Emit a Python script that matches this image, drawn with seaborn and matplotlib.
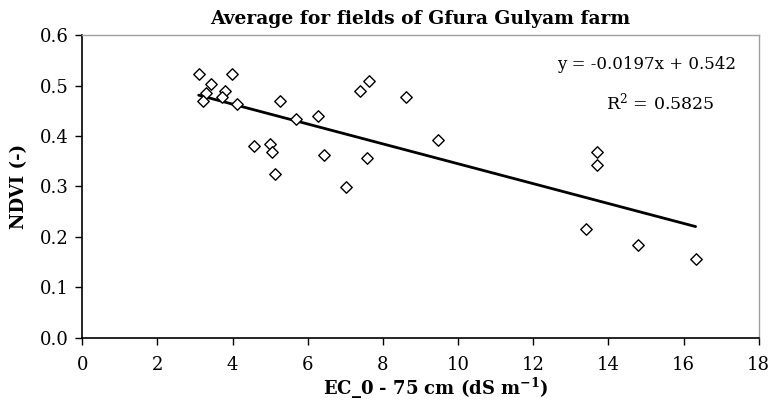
import matplotlib
matplotlib.use("Agg")
import matplotlib.pyplot as plt
import seaborn as sns
import pandas as pd
import numpy as np

# Data
ec = [3.10, 3.99, 3.43, 3.29, 3.80, 3.21, 3.72, 4.11, 4.57, 4.99, 5.06, 5.14, 5.27, 5.69,
      6.28, 6.44, 7.02, 7.38, 7.62, 7.57, 8.62, 9.48, 13.40, 13.69, 13.70, 14.80, 16.32]
ndvi = [0.523, 0.523, 0.504, 0.485, 0.489, 0.469, 0.478, 0.463, 0.380, 0.384, 0.368, 0.325,
        0.470, 0.434, 0.440, 0.363, 0.298, 0.489, 0.509, 0.356, 0.478, 0.393, 0.216, 0.369,
        0.343, 0.184, 0.156]
slope = -0.0197
intercept = 0.542
r2 = 0.5825

df = pd.DataFrame({'ec': ec, 'ndvi': ndvi})

sns.set_theme(style="ticks")
plt.rcParams['font.family'] = ['DejaVu Serif']
plt.rcParams['mathtext.fontset'] = 'dejavuserif'
plt.rcParams['text.color'] = 'black'
plt.rcParams['axes.labelcolor'] = 'black'

fig, ax = plt.subplots(figsize=(7.75, 4.08), dpi=100)
fig.subplots_adjust(left=0.106, right=0.979, top=0.914, bottom=0.172)

# Trend line from the reported fit
xfit = np.array([min(ec), max(ec)])
fit = pd.DataFrame({'ec': xfit, 'ndvi': slope * xfit + intercept})
sns.lineplot(data=fit, x='ec', y='ndvi', ax=ax, color='black', linewidth=2)

sns.scatterplot(data=df, x='ec', y='ndvi', ax=ax, marker='D', s=34,
                facecolor='white', edgecolor='black', linewidth=1.0, zorder=3)

ax.set_xlim(0, 18)
ax.set_ylim(0, 0.6)
ax.set_xticks(range(0, 19, 2))
ax.set_yticks(np.arange(0, 0.61, 0.1))
ax.set_yticklabels([f'{v:.1f}' for v in np.arange(0, 0.61, 0.1)])
ax.tick_params(axis='both', labelsize=13, direction='out', length=5, width=1,
               colors='black', labelcolor='black')
ax.tick_params(axis='x', pad=8)
ax.tick_params(axis='y', pad=5)

ax.set_xlabel('EC_0 - 75 cm (dS m$^{\\mathbf{-1}}$)', fontsize=13, fontweight='bold')
ax.xaxis.set_label_coords(0.523, -0.125)
ax.set_ylabel('NDVI (-)', fontsize=13, fontweight='bold', labelpad=8)
ax.set_title('Average for fields of Gfura Gulyam farm', fontsize=13.5, fontweight='bold',
             pad=8, color='black')

for side in ['left', 'bottom']:
    ax.spines[side].set_color('black')
    ax.spines[side].set_linewidth(1.2)
for side in ['top', 'right']:
    ax.spines[side].set_visible(True)
    ax.spines[side].set_color('#a0a0a0')
    ax.spines[side].set_linewidth(1.0)

ax.text(17.39, 0.541, f'y = {slope}x + {intercept}', ha='right', va='center', fontsize=12)
ax.text(15.37, 0.467, f'R$^2$ = {r2}', ha='center', va='center', fontsize=12.5)

fig.savefig('out.png', dpi=100)
